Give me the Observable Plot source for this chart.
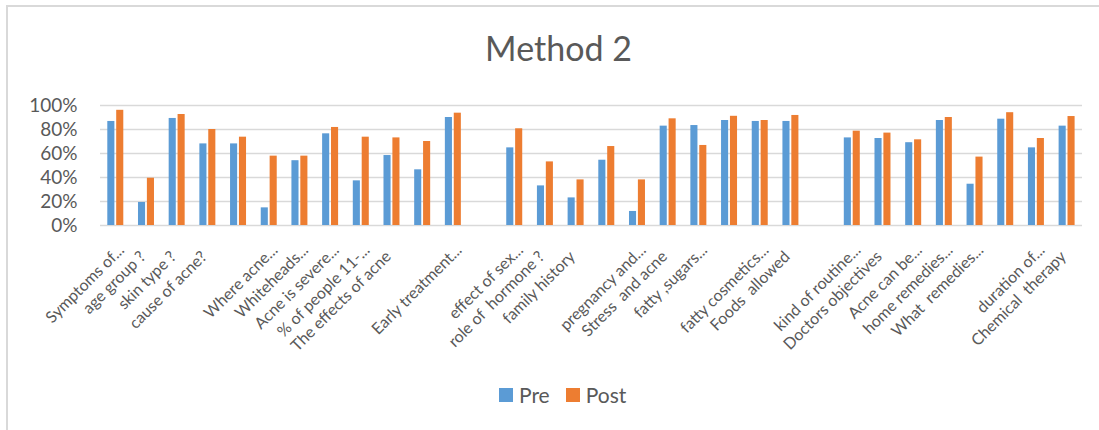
<!DOCTYPE html>
<html>
<head>
<meta charset="utf-8">
<script src="https://cdn.jsdelivr.net/npm/d3@7"></script>
<script src="https://cdn.jsdelivr.net/npm/@observablehq/plot@0.6"></script>
<style>
  html, body { margin: 0; padding: 0; background: #fff; overflow: hidden; }
  #wrap { position: relative; width: 1099px; height: 430px; font-family: Lato, "Open Sans", sans-serif; color: #595959; }
  #frame { position: absolute; left: 6px; top: 5px; width: 1200px; height: 500px; border-left: 2px solid #d9d9d9; border-top: 2px solid #d9d9d9; }
  #title { position: absolute; left: 9px; top: 27px; width: 1099px; text-align: center; font-size: 34px; color: #595959; }
  #chart { position: absolute; left: 0; top: 0; }
  #chart svg text { white-space: pre; }
  #legend { position: absolute; top: 382px; left: 499px; font-size: 21px; color: #595959; display: flex; align-items: center; }
  .sw { display: inline-block; width: 14px; height: 14px; margin-right: 6px; }
  .item { display: flex; align-items: center; margin-right: 16px; }
</style>
</head>
<body>
<div id="wrap">
  <div id="frame"></div>
  <div id="chart"></div>
  <div id="title">Method 2</div>
  <div id="legend"></div>
</div>
<script>
// Category labels (slot order; "" = no label shown)
const categories = [
  "Symptoms of...", "age group ?", "skin type ?", "cause of acne?", "",
  "Where acne...", "Whiteheads...", "Acne is severe...", "% of people 11-...", "The effects of acne",
  "", "Early treatment...", "", "effect of sex...", "role of  hormone ?",
  "family history", "", "pregnancy and...", "Stress  and acne", "fatty ,sugars...",
  "", "fatty cosmetics...", "Foods  allowed", "", "kind of routine...",
  "Doctors objectives", "Acne can be...", "home remedies...", "What  remedies...", "",
  "duration of...", "Chemical  therapy"
];
const pre = [
  0.867, 0.192, 0.892, 0.68, 0.68,
  0.147, 0.54, 0.764, 0.372, 0.583,
  0.464, 0.90, null, 0.647, 0.33,
  0.23, 0.544, 0.117, 0.828, 0.833,
  0.875, 0.867, 0.867, null, 0.73,
  0.725, 0.69, 0.875, 0.344, 0.886,
  0.647, 0.828
];
const post = [
  0.96, 0.394, 0.925, 0.80, 0.736,
  0.578, 0.578, 0.817, 0.736, 0.73,
  0.70, 0.936, null, 0.806, 0.53,
  0.38, 0.658, 0.38, 0.889, 0.667,
  0.91, 0.875, 0.917, null, 0.786,
  0.77, 0.714, 0.90, 0.57, 0.94,
  0.725, 0.908
];
const yTicks = [0, 0.2, 0.4, 0.6, 0.8, 1.0];
const seriesNames = ["Pre", "Post"];
const seriesColors = ["#5B9BD5", "#ED7D31"];

const slots = categories.map((c, i) => i);
const preData = slots.filter(i => pre[i] != null).map(i => ({slot: i, value: pre[i]}));
const postData = slots.filter(i => post[i] != null).map(i => ({slot: i, value: post[i]}));
// truncated labels (ending with "...") sit a little further along the diagonal
const isTrunc = i => categories[i].endsWith("...");
const truncSlots = slots.filter(i => categories[i] && isTrunc(i));
const fullSlots = slots.filter(i => categories[i] && !isTrunc(i));

const chart = Plot.plot({
  width: 1099,
  height: 380,
  marginLeft: 100,
  marginRight: 17,
  marginTop: 105,
  marginBottom: 155,
  style: {fontFamily: "Lato, 'Open Sans', sans-serif", color: "#595959", background: "transparent", overflow: "visible"},
  x: {type: "band", domain: slots, padding: 0, round: false, label: null},
  y: {domain: [0, 1], label: null},
  marks: [
    Plot.ruleY(yTicks, {stroke: "#d9d9d9", strokeWidth: 1.4}),
    Plot.barY(preData, {x: "slot", y: "value", fill: seriesColors[0], insetLeft: 7.3, insetRight: 16.3}),
    Plot.barY(postData, {x: "slot", y: "value", fill: seriesColors[1], insetLeft: 16.2, insetRight: 7.4}),
    Plot.axisY({ticks: yTicks, tickFormat: d3.format(".0%"), tickSize: 0, tickPadding: 23, fontSize: 19, label: null, fill: "#595959"}),
    Plot.axisX({ticks: truncSlots, tickFormat: i => categories[i], tickSize: 0, tickPadding: 22, tickRotate: -45, fontSize: 16, label: null, fill: "#595959", dx: 5.7}),
    Plot.axisX({ticks: fullSlots, tickFormat: i => categories[i], tickSize: 0, tickPadding: 28.5, tickRotate: -45, fontSize: 16, label: null, fill: "#595959", dx: -3.7})
  ]
});
document.getElementById("chart").appendChild(chart);

const legend = document.getElementById("legend");
seriesNames.forEach((n, k) => {
  const it = document.createElement("span");
  it.className = "item";
  const sw = document.createElement("span");
  sw.className = "sw";
  sw.style.background = seriesColors[k];
  it.appendChild(sw);
  it.appendChild(document.createTextNode(n));
  legend.appendChild(it);
});
</script>
</body>
</html>
